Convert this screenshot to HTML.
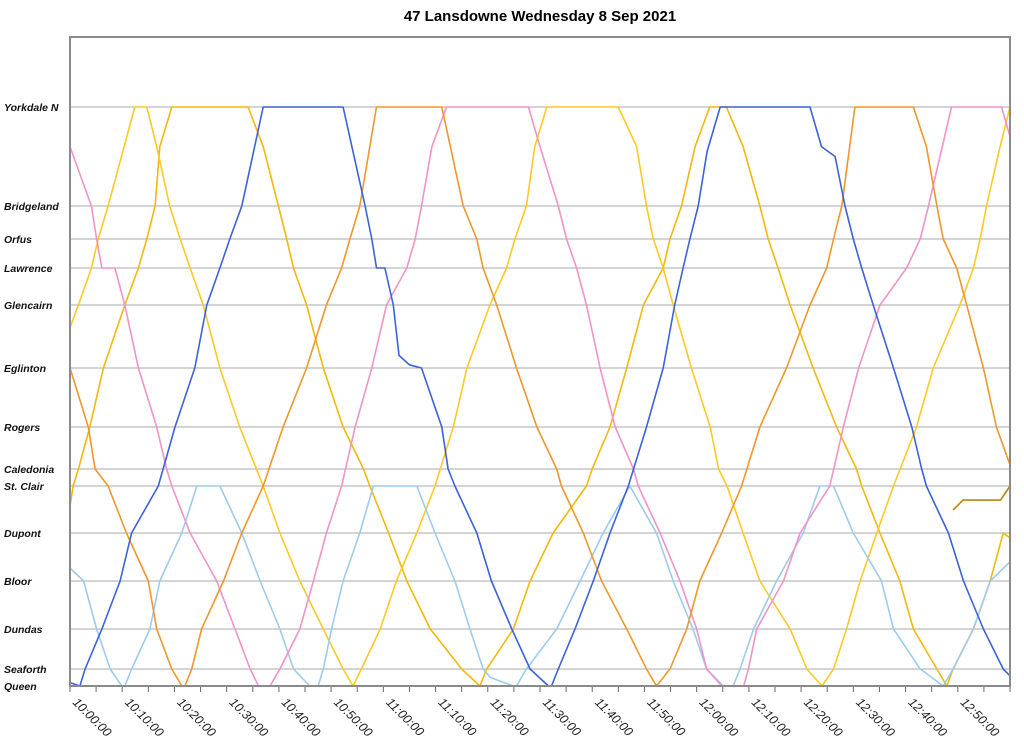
<!DOCTYPE html>
<html><head><meta charset="utf-8">
<style>
html,body{margin:0;padding:0;background:#fff;}
svg{display:block;font-family:"Liberation Sans",Arial,sans-serif;}
</style></head>
<body>
<svg id="chart" width="1024" height="745" viewBox="0 0 1024 745" xmlns="http://www.w3.org/2000/svg">
<text x="540" y="21" text-anchor="middle" font-size="15" font-weight="bold" fill="#000">47 Lansdowne Wednesday 8 Sep 2021</text>
<g id="grid"></g>
<g id="ylabels"></g>
<g id="xaxis"></g>
<g id="series"></g>
<rect x="70" y="37" width="940" height="649" fill="none" stroke="#8a8a8a" stroke-width="2"/>
</svg>
<script>
// Stations (index 0 = Queen ... 13 = Yorkdale N)
const stations = ["Queen","Seaforth","Dundas","Bloor","Dupont","St. Clair","Caledonia","Rogers","Eglinton","Glencairn","Lawrence","Orfus","Bridgeland","Yorkdale N"];
const stationPos = [686,669,629,581,533,486,469,427,368,305,268,239,206,107];
const tickLabels = ["10:00:00","10:10:00","10:20:00","10:30:00","10:40:00","10:50:00","11:00:00","11:10:00","11:20:00","11:30:00","11:40:00","11:50:00","12:00:00","12:10:00","12:20:00","12:30:00","12:40:00","12:50:00"];
// Series: [minutes after 10:00, station index]
const blueTrip = [[0,0.2],[1.9,0],[2.9,1],[6.1,2],[9.6,3],[11.8,4],[16.9,5],[20.1,7],[23.9,8],[26.2,9],[28.7,10],[30.6,11],[32.9,12],[37,13],[52.3,13],[56.5,12],[57.8,11],[58.7,10],[60.3,10],[61.9,9],[63,8.2],[65,8.05],[67.3,8],[71.2,7],[72.4,6],[73.7,5],[77.9,4],[80.7,3],[84.6,2],[88.1,1],[91.6,0],[92.2,0],[93.5,1],[96.7,2],[100.2,3],[103.4,4],[106.9,5],[110.4,7],[113.6,8],[115.8,9],[117.4,10],[118.7,11],[120.3,12],[122,12.55],[124.5,13],[141.7,13],[143.9,12.6],[146.5,12.5],[148.4,12],[150,11],[151.6,10],[153.8,9],[157.7,8],[161.2,7],[163.1,6],[164,5],[168.2,4],[171.1,3],[174.9,2],[178.7,1],[180,0.6]];
const lightBlueTrip = [[0,3.27],[2.6,3],[5.1,2],[7.7,1],[9.9,0],[10.5,0],[11.8,1],[15.3,2],[17.2,3],[21.4,4],[24.3,5],[28.7,5],[32.9,4],[36.4,3],[40.2,2],[42.8,1],[45.9,0],[47.5,0],[48.5,1],[50.1,2],[52.3,3],[55.5,4],[58.1,5],[66.4,5],[69.9,4],[73.7,3],[76.6,2],[79.1,1],[80.5,0.5],[84.9,0],[85.5,0],[87.4,1],[93.2,2],[97.7,3],[102.1,4],[107.2,5],[112.3,4],[115.5,3],[119.3,2],[121.9,1],[125.1,0],[127,0],[128.3,1],[130.9,2],[135.3,3],[140.4,4],[143.6,5],[146.2,5],[150,4],[155.4,3],[157.7,2],[162.8,1],[167.2,0],[169.1,1],[173,2],[176.2,3],[180,3.4]];
const pinkTrip = [[0,12.6],[4.1,12],[5.1,11],[6.1,10],[8.6,10],[10.5,9],[13.1,8],[16.6,7],[18.5,6],[19.5,5],[23,4],[28.1,3],[31.6,2],[34.5,1],[36.1,0],[38.3,0],[40.2,1],[44,2],[46.6,3],[49.1,4],[52,5],[54.6,7],[57.8,8],[60.6,9],[64.5,10],[66.1,11],[67.3,12],[69.3,12.6],[72.1,13],[87.8,13],[90,12.6],[93.5,12],[95.1,11],[97,10],[98.9,9],[101.5,8],[104.4,7],[107.9,6],[108.8,5],[113,4],[116.8,3],[120,2],[121.9,1],[124.8,0],[129,0],[129.9,1],[131.5,2],[136.6,3],[139.8,4],[145.5,5],[148.1,7],[151,8],[155.1,9],[160.2,10],[162.8,11],[164.4,12],[168.8,13],[178.4,13],[180,12.7]];
const orangeTrip = [[0,8],[3.5,7],[4.8,6],[7.3,5],[10.8,4],[15,3],[16.6,2],[19.5,1],[21.4,0],[22,0],[23.3,1],[25.2,2],[29.4,3],[32.9,4],[37,5],[40.8,7],[45.3,8],[49.1,9],[52,10],[53.6,11],[55.5,12],[58.7,13],[71.2,13],[75.3,12],[77.9,11],[79.1,10],[81.7,9],[85.5,8],[89.4,7],[93.2,6],[94.1,5],[98.3,4],[101.8,3],[106.6,2],[110.4,1],[112.3,0],[114.9,1],[118.1,2],[120.6,3],[124.8,4],[128.6,5],[132.1,7],[137.2,8],[141.7,9],[144.9,10],[146.2,11],[147.8,12],[150.3,13],[161.5,13],[164,12.6],[166,12],[167.2,11],[169.8,10],[171.7,9],[174.9,8],[177.4,7],[180,6.1]];
const goldTrip = [[169.1,4.49],[171,4.7],[178.2,4.7],[180,5]];
const yellowTripA = [[0,8.64],[1.6,9],[4.1,10],[5.4,11],[7.3,12],[12.4,13],[14.7,13],[16.6,12.6],[19.1,12],[21.1,11],[23,10],[25.5,9],[28.7,8],[32.5,7],[35.7,6],[37,5],[40.2,4],[44,3],[48.5,2],[52.3,1],[54.2,0],[55.8,1],[59.4,2],[62.5,3],[66.4,4],[69.9,5],[73.4,7],[76,8],[80.4,9],[83.6,10],[85.2,11],[87.4,12],[89,12.6],[91.3,13],[105,13],[108.5,12.6],[110.4,12],[111.7,11],[113.6,10],[115.5,9],[119,8],[122.6,7],[124.2,6],[125.8,5],[128.9,4],[132.1,3],[137.9,2],[141.1,1],[144,0],[146.2,1],[148.7,2],[151.3,3],[154.5,4],[157.7,5],[162.1,7],[165.3,8],[170.4,9],[173,10],[174.3,11],[175.5,12],[178.1,12.6],[180,13]];
const yellowTripB = [[0,4.57],[0.6,5],[1.6,6],[3.8,7],[6.4,8],[10.5,9],[13.1,10],[14.7,11],[16.3,12],[17.2,12.6],[19.5,13],[34.1,13],[37,12.6],[39.9,12],[41.5,11],[42.8,10],[45.3,9],[48.5,8],[52.3,7],[56.2,6],[57.4,5],[61,4],[64.5,3],[69,2],[75,1],[78.5,0],[79.8,1],[84.9,2],[88.1,3],[92.5,4],[98.9,5],[100,6],[103.4,7],[106.6,8],[109.8,9],[113.6,10],[114.9,11],[117.1,12],[119.7,12.6],[122.5,13],[125.7,13],[128.9,12.6],[132.1,12],[133.7,11],[135.6,10],[137.9,9],[142.3,8],[146.8,7],[150.6,6],[151.6,5],[155.1,4],[158.9,3],[161.5,2],[166,1],[167.9,0],[169.1,1],[173,2],[176.2,3],[178.7,4],[180,3.9]];

const NS="http://www.w3.org/2000/svg";
const X0=70, X1=1010, TMAX=180;
function xScale(m){return X0+(m/TMAX)*(X1-X0);}
function yScale(s){const i=Math.floor(s);if(i>=stationPos.length-1)return stationPos[stationPos.length-1];const f=s-i;return stationPos[i]+(stationPos[i+1]-stationPos[i])*f;}
function mk(tag,attrs,parent){const e=document.createElementNS(NS,tag);for(const k in attrs)e.setAttribute(k,attrs[k]);parent.appendChild(e);return e;}

const grid=document.getElementById('grid'), yl=document.getElementById('ylabels');
stations.forEach((s,i)=>{
  const y=yScale(i);
  const l=mk('line',{x1:X0,x2:X1,y1:y,y2:y,stroke:'#a8a8a8','stroke-width':1},grid);
  
  
  const t=mk('text',{x:4,y:y+4,'font-size':10.5,'font-weight':'bold','font-style':'italic',fill:'#111'},yl);
  t.textContent=s;
  
  
});
const xa=document.getElementById('xaxis');
for(let m=0;m<=TMAX;m+=5){
  const x=xScale(m);
  const tk=mk('line',{x1:x,x2:x,y1:686,y2:692,stroke:'#666','stroke-width':1},xa);
  
  
}
tickLabels.forEach((lab,i)=>{
  const x=xScale(i*10)+2, y=703;
  const t=mk('text',{x:x,y:y,'font-size':12.5,'font-style':'italic',fill:'#222',transform:'rotate(45 '+x+' '+y+')'},xa);
  t.textContent=lab;
  
  
});
const ser=document.getElementById('series');
const seriesList=[
  [yellowTripB,'#f3b80c','series-yellow-b'],
  [yellowTripA,'#fcc926','series-yellow-a'],
  [lightBlueTrip,'#9dcbee','series-light-blue'],
  [pinkTrip,'#f093c8','series-pink'],
  [orangeTrip,'#ee972c','series-orange'],
  [blueTrip,'#3b62d8','series-blue'],
  [goldTrip,'#b8860b','series-gold']
];
seriesList.forEach(([data,color,name])=>{
  const pts=data.map(p=>xScale(p[0]).toFixed(1)+','+yScale(p[1]).toFixed(1)).join(' ');
  const pl=mk('polyline',{points:pts,fill:'none',stroke:color,'stroke-width':1.6,'stroke-linejoin':'round'},ser);
  
  
});
</script>
</body></html>
